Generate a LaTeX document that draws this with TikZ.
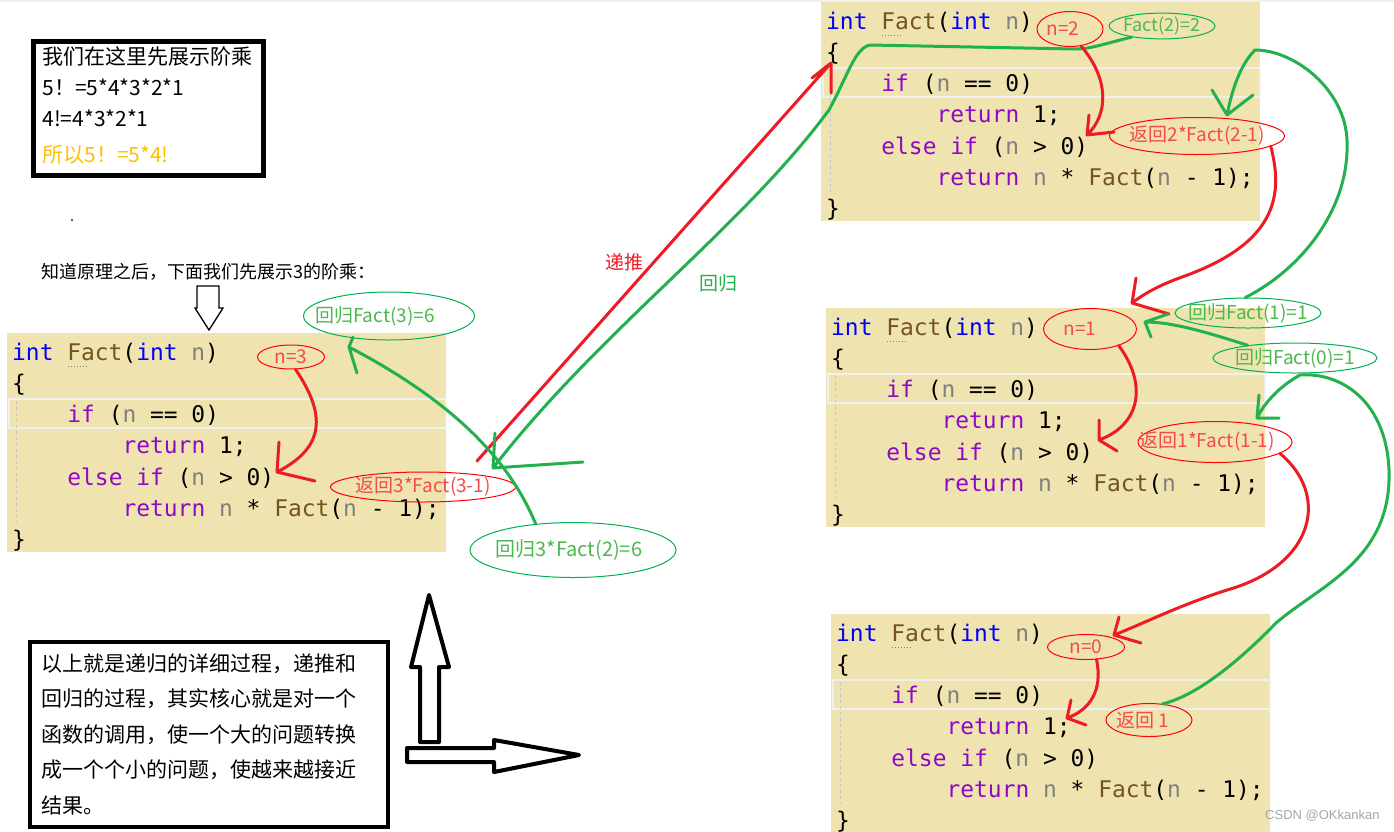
\documentclass[tikz,border=0pt]{standalone}
\usepackage{fontspec}
\setmainfont{Noto Sans CJK SC}
\setmonofont{DejaVu Sans Mono}
\newfontfamily\wmfont{Liberation Sans}
\usetikzlibrary{shapes.geometric}

\definecolor{codebg}{HTML}{EFE4B0}
\definecolor{kwblue}{HTML}{0000FF}
\definecolor{fnbrown}{HTML}{74531F}
\definecolor{ctlpurple}{HTML}{8F08C4}
\definecolor{vargray}{HTML}{808080}
\definecolor{penred}{HTML}{ED1C24}
\definecolor{pengreen}{HTML}{22B14C}
\definecolor{labred}{HTML}{F24B4B}
\definecolor{labgreen}{HTML}{4DB84D}
\definecolor{ringgreen}{HTML}{00B050}
\definecolor{hintyellow}{HTML}{FFC000}

\newcommand{\ckw}[1]{\textcolor{kwblue}{#1}}
\newcommand{\cfn}[1]{\textcolor{fnbrown}{#1}}
\newcommand{\cctl}[1]{\textcolor{ctlpurple}{#1}}
\newcommand{\cvar}[1]{\textcolor{vargray}{#1}}
\newcommand{\zw}[2][0pt]{\makebox[0pt]{\hspace{#1}#2}}

\begin{document}
\begin{tikzpicture}[x=1pt,y=-1pt,
  codeline/.style={anchor=base west,inner sep=0pt,font=\ttfamily\fontsize{22.9}{27}\selectfont},
  red note/.style={ellipse,draw=red,line width=1,inner sep=0pt,text=labred,font=\fontsize{19}{22}\selectfont},
  green note/.style={ellipse,draw=ringgreen,line width=1,inner sep=0pt,text=labgreen,font=\fontsize{19}{22}\selectfont},
  red pen/.style={draw=penred,line width=3,line cap=round,line join=round},
  green pen/.style={draw=pengreen,line width=3,line cap=round,line join=round},
  text box/.style={draw,anchor=north west,align=left}]

  \fill[white] (0,0) rectangle (1394,831);
  \useasboundingbox (0,0) rectangle (1394,831);
  \draw[gray!12,line width=2] (0,1) -- (1394,1);

  % the four copies of the code
  \foreach \bx/\by/\nm in {7/333/a,821/2/b,826/308/c,831/614/d}{
    \fill[codebg] (\bx,\by) rectangle ++(439,219);
    \draw[gray!12,line width=2.5] (\bx+2,\by+66) rectangle (\bx+439,\by+95);
    \draw[gray!45,dashed,line width=0.8] (\bx+9,\by+68) -- (\bx+9,\by+190);
    \node[codeline] (\nm1) at (\bx+5,\by+27) {\ckw{int} \cfn{Fact}(\ckw{int} \cvar{n})};
    \draw[gray,dotted,line width=1] (\bx+61,\by+33) -- (\bx+82,\by+33);
    \node[codeline] (\nm2) at (\bx+5,\by+58.3) {\{};
    \node[codeline] (\nm3) at (\bx+60.2,\by+89.6) {\cctl{if} (\cvar{n} == 0)};
    \node[codeline] (\nm4) at (\bx+115.4,\by+120.9) {\cctl{return} 1;};
    \node[codeline] (\nm5) at (\bx+60.2,\by+152.2) {\cctl{else} \cctl{if} (\cvar{n} > 0)};
    \node[codeline] (\nm6) at (\bx+115.4,\by+183.5) {\cctl{return} \cvar{n} * \cfn{Fact}(\cvar{n} - 1);};
    \node[codeline] (\nm7) at (\bx+5,\by+214.8) {\}};
  }

  % text boxes
  \node[text box,line width=5,text width=212,inner xsep=9,inner ysep=6,
    font=\fontsize{21}{31}\selectfont] (intro) at (31,38.5)
    {我们在这里先展示阶乘\\ 5！=5*4*3*2*1\\ 4!=4*3*2*1\\[5pt]
     \textcolor{hintyellow}{所以5！=5*4!}\rule[-6.5pt]{0pt}{1pt}};
  \fill (72,220) circle (1);
  \node[anchor=west,inner sep=0pt,font=\fontsize{18}{20}\selectfont] (lead) at (41,272)
    {知道原理之后，下面我们先展示3的阶乘：};
  \node[text box,line width=3.5,text width=335,inner xsep=11.5,inner ysep=12,
    font=\fontsize{21}{35.5}\selectfont] (summary) at (28,640)
    {以上就是递归的详细过程，递推和\\ 回归的过程，其实核心就是对一个\\
     函数的调用，使一个大的问题转换\\ 成一个个小的问题，使越来越接近\\ 结果。};

  % hollow arrows
  \draw[line width=1.3] (197,286) -- (219,286) -- (219,308) -- (223,308) -- (209,330)
    -- (195,308) -- (197,308) -- cycle;
  \draw[line width=4,line join=round] (420,742) -- (420,667) -- (411,667) -- (429,595)
    -- (449,667) -- (439,667) -- (439,742) -- cycle;
  \draw[line width=4,line join=round] (407,748) -- (494,748) -- (494,740) -- (579,755)
    -- (494,772) -- (494,762) -- (407,762) -- cycle;

  % notes
  \node[green note,minimum width=171,minimum height=48] (fact3) at (389,316) {\zw[-28pt]{回归Fact(3)=6}};
  \node[red note,minimum width=67,minimum height=24] (n3) at (291,357) {\zw{n=3}};
  \node[red note,minimum width=185,minimum height=30] (back3) at (423,487) {\zw{返回3*Fact(3-1)}};
  \node[green note,minimum width=206,minimum height=55,font=\fontsize{20}{22}\selectfont] (ret3) at (573,550) {\zw[-8pt]{回归3*Fact(2)=6}};
  \node[red note,minimum width=66,minimum height=35] (n2) at (1070,29) {\zw[-14pt]{n=2}};
  \node[green note,minimum width=106,minimum height=24,font=\fontsize{18}{20}\selectfont] (fact2) at (1162,26) {\zw{Fact(2)=2}};
  \node[red note,minimum width=175,minimum height=37] (back2) at (1197,136) {\zw{返回2*Fact(2-1)}};
  \node[green note,minimum width=146,minimum height=30] (fact1) at (1248,313) {\zw{回归Fact(1)=1}};
  \node[red note,minimum width=93,minimum height=41] (n1) at (1090,329) {\zw[-20pt]{n=1}};
  \node[green note,minimum width=164,minimum height=30] (fact0) at (1295,358) {\zw{回归Fact(0)=1}};
  \node[red note,minimum width=154,minimum height=41] (back1) at (1215,442) {\zw[-16pt]{返回1*Fact(1-1)}};
  \node[red note,minimum width=77,minimum height=25] (n0) at (1086,647) {\zw{n=0}};
  \node[red note,minimum width=86,minimum height=33] (back0) at (1149,720) {\zw[-12pt]{返回 1}};

  % tips of the pen strokes
  \coordinate (pushfrom) at (477,461);
  \coordinate (pushto) at (831,63);
  \coordinate (backto) at (493,468);
  \coordinate (tipa) at (277,472);
  \coordinate (tipb) at (349,347);
  \coordinate (tipe) at (1087,135);
  \coordinate (tipf) at (1132,303);
  \coordinate (tipg) at (1227,115);
  \coordinate (tiph) at (1099,440);
  \coordinate (tipi) at (1145,322);
  \coordinate (tipj) at (1114,635);
  \coordinate (tipk) at (1257,418);
  \coordinate (tipl) at (1067,718);

  % 递推 and 回归
  \draw[red pen] (pushfrom) -- node[pos=0.5,left=6pt,text=penred,font=\fontsize{19}{22}\selectfont] (push) {递推} (pushto)
    -- ++(0,30) (pushto) -- ++(-19,15);
  \draw[green pen] (fact2.200) .. controls (1100,45) and (1090,49) .. (1075,49) -- (870,45)
    .. controls (855,48) and (848,75) .. (829,110) .. controls (740,230) and (600,330) .. (backto)
    -- ++(2,-35) (backto) -- ++(90,-6);
  \node[text=pengreen,font=\fontsize{19}{22}\selectfont] (backlab) at (718,283) {回归};

  % calls going down
  \draw[red pen] (n3.-70) .. controls (330,420) and (320,450) .. (tipa) -- ++(2,-30) (tipa) -- ++(38,9);
  \draw[red pen] (n2.-57) .. controls (1110,80) and (1108,115) .. (tipe) -- ++(2,-20) (tipe) -- ++(27,-3);
  \draw[red pen] (back2.-8) .. controls (1285,200) and (1272,245) .. (1182,277)
    .. controls (1160,285) and (1145,293) .. (tipf) -- ++(4,-25) (tipf) -- ++(37,11);
  \draw[red pen] (n1.-30) .. controls (1148,385) and (1140,425) .. (tiph) -- ++(0,-20) (tiph) -- ++(18,11);
  \draw[red pen] (back1.-10) .. controls (1330,495) and (1315,565) .. (1227,590)
    .. controls (1180,605) and (1140,625) .. (tipj) -- ++(5,-18) (tipj) -- ++(27,8);
  \draw[red pen] (n0.-50) .. controls (1103,690) and (1090,710) .. (tipl) -- ++(4,-18) (tipl) -- ++(19,7);

  % values coming back
  \draw[green pen] (ret3.145) .. controls (505,450) and (440,395) .. (tipb) -- ++(4,-10) (tipb) -- ++(8,26);
  \draw[green pen] (fact1.100) .. controls (1300,270) and (1350,210) .. (1347,140)
    .. controls (1345,90) and (1295,50) .. (1255,50) .. controls (1240,65) and (1232,90) .. (tipg)
    -- ++(-15,-25) (tipg) -- ++(26,-20);
  \draw[green pen] (fact0.165) .. controls (1200,330) and (1170,322) .. (tipi) -- ++(23,-8) (tipi) -- ++(6,15);
  \draw[green pen] (back0.50) .. controls (1200,695) and (1245,655) .. (1276,623)
    .. controls (1320,585) and (1392,560) .. (1389,470) .. controls (1386,400) and (1340,372) .. (1300,375)
    .. controls (1282,385) and (1266,400) .. (tipk) -- ++(2,-23) (tipk) -- ++(22,0);

  \node[anchor=west,inner sep=0pt,text=gray!70,font=\wmfont\fontsize{13}{15}\selectfont] (mark) at (1265,816) {CSDN @OKkankan};
\end{tikzpicture}
\end{document}
